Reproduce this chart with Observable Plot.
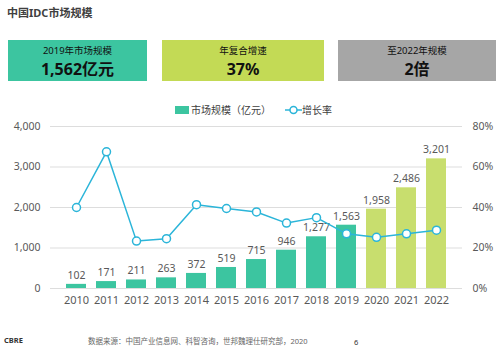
<!DOCTYPE html>
<html><head><meta charset="utf-8">
<script src="https://cdn.jsdelivr.net/npm/d3@7"></script>
<script src="https://cdn.jsdelivr.net/npm/@observablehq/plot@0.6"></script>
<style>
body{margin:0;width:500px;height:349px;position:relative;background:#fff;font-family:"Noto Sans","Noto Sans CJK SC",sans-serif;overflow:hidden}
.abs{position:absolute}
.title{left:7px;top:4px;font-size:11px;font-weight:bold;color:#404040}
.box{top:40px;height:41px;color:#111}
.box .l{position:absolute;left:0;right:0;text-align:center;top:4px;font-size:9.5px;line-height:13px}
.box .b{position:absolute;left:0;right:0;text-align:center;top:19px;font-size:16px;font-weight:bold;line-height:20px}
.legend{top:102px;font-size:10px;color:#404040;display:flex;align-items:center}
.foot{top:335px;font-size:7.5px;color:#666}
#chart{position:absolute;left:0;top:115px}
</style></head>
<body>
<div class="abs title">中国IDC市场规模</div>
<div class="abs box" style="left:8px;width:139px;background:#3CC5A0"><div class="l">2019年市场规模</div><div class="b">1,562亿元</div></div>
<div class="abs box" style="left:162px;width:162px;background:#C3DA55"><div class="l">年复合增速</div><div class="b">37%</div></div>
<div class="abs box" style="left:338px;width:158px;background:#A6A6A6"><div class="l">至2022年规模</div><div class="b">2倍</div></div>
<div class="abs legend" style="left:175px"><span style="display:inline-block;width:14px;height:8px;background:#3CC5A0;margin-right:2px"></span>市场规模（亿元）</div>
<div class="abs legend" style="left:285px"><svg width="17" height="10"><line x1="0" y1="5" x2="17" y2="5" stroke="#2BB5D9" stroke-width="1.5"/><circle cx="8.5" cy="5" r="3.5" fill="#fff" stroke="#2BB5D9" stroke-width="1.5"/></svg>增长率</div>
<div class="abs foot" style="left:4px;font-weight:bold;color:#333">CBRE</div>
<div class="abs foot" style="left:88px">数据来源：中国产业信息网、科智咨询，世邦魏理仕研究部，2020</div>
<div class="abs foot" style="left:354px;top:337px;color:#333">6</div>
<div id="chart"></div>
<script>
const years = ["2010","2011","2012","2013","2014","2015","2016","2017","2018","2019","2020","2021","2022"];
const sizes = [102,171,211,263,372,519,715,946,1277,1563,1958,2486,3201];
const rates = [40,67.5,23.4,24.6,41.4,39.5,37.8,32.3,35.0,27,25.3,27,28.8];
const forecast = ["2020","2021","2022"];
const yTicks = [0,1000,2000,3000,4000];

const data = years.map((y,i)=>({year:y,size:sizes[i],rate:rates[i],kind:forecast.includes(y)?"f":"a"}));
const k = 4000/80;
const fmt = d3.format(",");
const plot = Plot.plot({
  width:500,height:200,
  marginLeft:50,marginRight:38,marginTop:11,marginBottom:27,
  style:{fontFamily:"'Noto Sans','Noto Sans CJK SC',sans-serif",fontSize:"11px",color:"#595959",background:"transparent"},
  x:{domain:years,padding:0.34,label:null},
  y:{domain:[0,4000],label:null},
  color:{domain:["a","f"],range:["#3CC5A0","#C8DE6E"]},
  marks:[
    Plot.ruleY(yTicks,{stroke:"#DDDDDD",strokeWidth:1}),
    Plot.barY(data,{x:"year",y:"size",fill:"kind"}),
    Plot.text(data,{x:"year",y:"size",text:d=>fmt(d.size),dy:-9,fill:"#595959",fontSize:10.5}),
    Plot.line(data,{x:"year",y:d=>d.rate*k,stroke:"#2BB5D9",strokeWidth:1.5}),
    Plot.dot(data,{x:"year",y:d=>d.rate*k,r:4,fill:"#fff",stroke:"#2BB5D9",strokeWidth:1.5}),
    Plot.axisY(yTicks,{anchor:"left",tickSize:0,tickPadding:10,tickFormat:fmt,fontSize:10.5,label:null}),
    Plot.axisY(yTicks,{anchor:"right",tickSize:0,tickPadding:10,tickFormat:d=>(d/k)+"%",fontSize:10.5,label:null}),
    Plot.axisX({tickSize:0,tickPadding:8,fontSize:11,label:null})
  ]
});
document.getElementById("chart").appendChild(plot);
</script>
</body></html>
